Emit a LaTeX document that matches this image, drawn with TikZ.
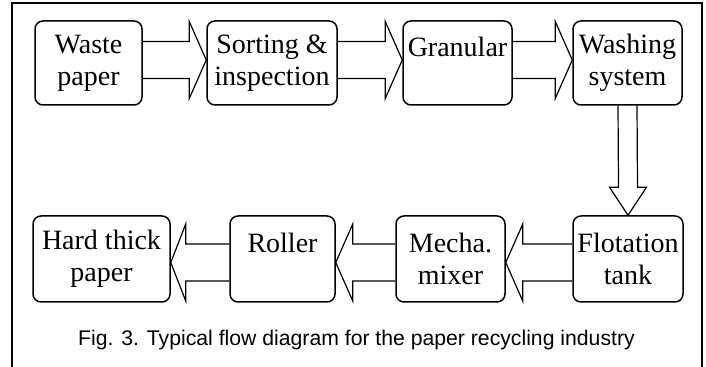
\documentclass[tikz,border=0pt]{standalone}
\usepackage{fontspec}
\setmainfont{Liberation Serif}
\setsansfont{Liberation Sans}
\usetikzlibrary{calc}

% hollow block arrow: #1 tail point, #2 tip point, #3 head base offset from tip, #4 vertical shift
\newcommand{\flowarrow}[4]{%
\draw[flow] ($(#1)+(0,{#4-18.5})$) -- ($(#2)+({#3},{#4-18.5})$) -- ($(#2)+({#3},{#4-38.5})$)
  -- ($(#2)+(0,{#4})$) -- ($(#2)+({#3},{#4+38.5})$) -- ($(#2)+({#3},{#4+18.5})$) -- ($(#1)+(0,{#4+18.5})$);
}

\begin{document}
\begin{tikzpicture}[x=0.5pt,y=-0.5pt,
  stage/.style={draw,line width=0.75pt,rounded corners=4pt,align=center,inner sep=0pt,
    font=\fontsize{14}{16}\selectfont},
  flow/.style={line width=0.6pt,line join=miter}]

\useasboundingbox (0,0) rectangle (706,367);

% frame
\draw[line width=1pt] (12,380) -- (12,3) -- (702,3) -- (702,380);

% upper row
\node[stage,minimum width=53.5pt,minimum height=42pt] (waste) at (88.5,63) {Waste\\paper};
\node[stage,minimum width=65pt,minimum height=42pt] (sort) at (272,63) {Sorting \&\\inspection};
\node[stage,minimum width=54.5pt,minimum height=42pt] (gran) at (457.5,63) {Granular\\\mbox{}};
\node[stage,minimum width=54.5pt,minimum height=42pt] (wash) at (627.5,63) {Washing\\system};

% lower row
\node[stage,minimum width=55pt,minimum height=43pt] (flot) at (628,259) {Flotation\\tank};
\node[stage,minimum width=54.5pt,minimum height=43pt] (mixer) at (450.5,259) {Mecha.\\mixer};
\node[stage,minimum width=52.5pt,minimum height=43pt] (roll) at (282.5,259) {Roller\\\mbox{}};
\node[stage,minimum width=68.5pt,minimum height=43pt] (hard) at (101.5,259) {Hard thick\\paper};

\flowarrow{waste.east}{sort.west}{-17}{-3}
\flowarrow{sort.east}{gran.west}{-17}{-3}
\flowarrow{gran.east}{wash.west}{-17}{-3}

\draw[flow] ($(wash.south)+(-9.5,0)$) -- ($(flot.north)+(-9.5,-28)$) -- ($(flot.north)+(-18.5,-28)$)
  -- (flot.north) -- ($(flot.north)+(18.5,-28)$) -- ($(flot.north)+(9.5,-28)$) -- ($(wash.south)+(9.5,0)$);

\flowarrow{flot.west}{mixer.east}{17}{3.5}
\flowarrow{mixer.west}{roll.east}{17}{3.5}
\flowarrow{roll.west}{hard.east}{15}{3.5}

\node[font=\sffamily\fontsize{10.6}{12}\selectfont,anchor=base] (cap) at (356.5,346)
  {Fig. 3. Typical flow diagram for the paper recycling industry};

\end{tikzpicture}
\end{document}
